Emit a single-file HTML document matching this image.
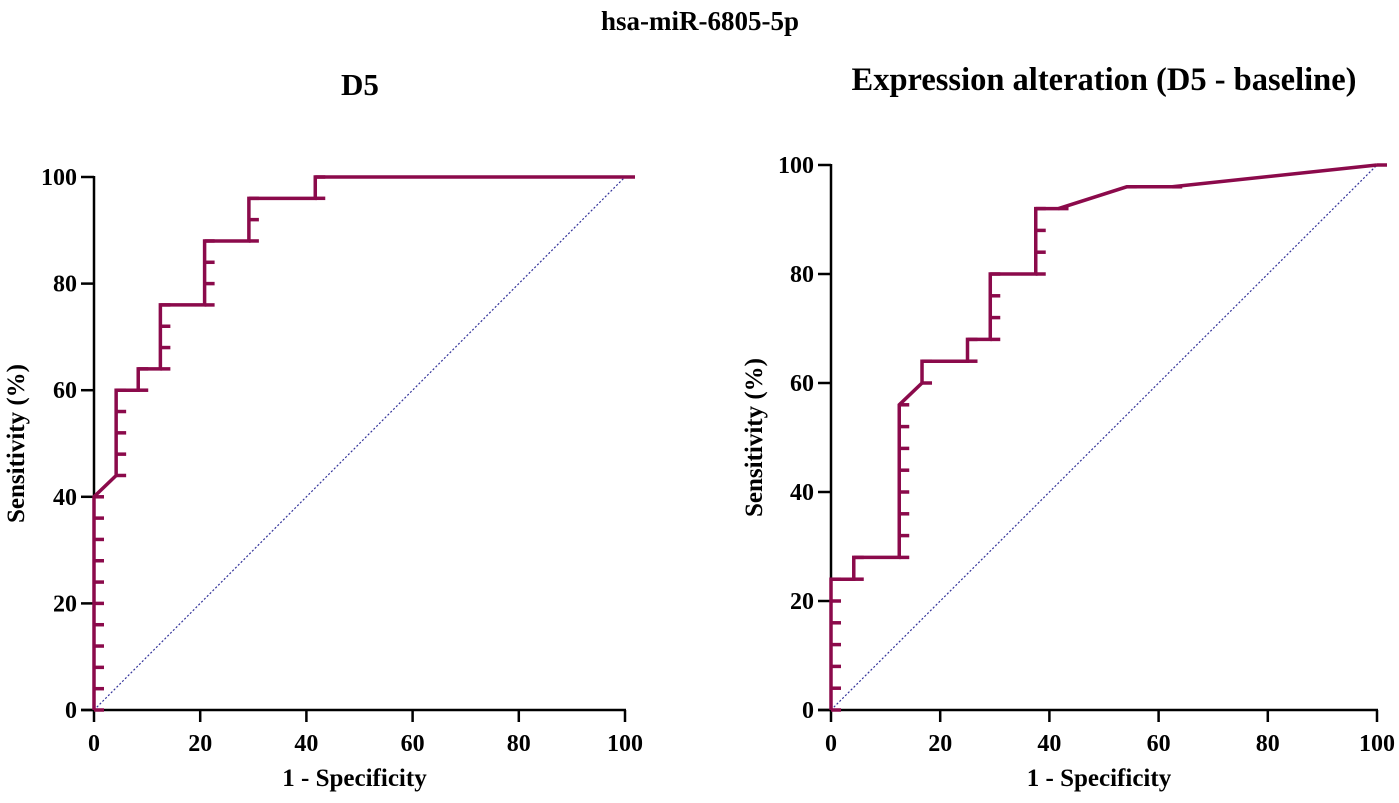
<!DOCTYPE html>
<html><head><meta charset="utf-8"><style>
html,body{margin:0;padding:0;background:#fff}
svg text{font-family:"Liberation Serif",serif;font-weight:bold;fill:#000}
</style></head><body>
<svg id="svg" width="1399" height="798" viewBox="0 0 1399 798" xmlns="http://www.w3.org/2000/svg">
<text x="700" y="30" font-size="27" text-anchor="middle">hsa-miR-6805-5p</text>
<text x="360" y="95" font-size="31" text-anchor="middle">D5</text>
<text x="1104" y="90" font-size="32.5" text-anchor="middle">Expression alteration (D5 - baseline)</text>
<g id="left"></g>
<g id="right"></g>
</svg>
<script>
const ticks=[0,20,40,60,80,100];
const leftFpr=[0,0,0,0,0,0,0,0,0,0,0,4.17,4.17,4.17,4.17,4.17,8.33,8.33,12.5,12.5,12.5,12.5,20.83,20.83,20.83,20.83,29.17,29.17,29.17,41.67,41.67,100];
const leftTpr=[0,4,8,12,16,20,24,28,32,36,40,44,48,52,56,60,60,64,64,68,72,76,76,80,84,88,88,92,96,96,100,100];
const rightFpr=[0,0,0,0,0,0,0,4.17,4.17,12.5,12.5,12.5,12.5,12.5,12.5,12.5,12.5,16.67,16.67,25,25,29.17,29.17,29.17,29.17,37.5,37.5,37.5,37.5,41.67,54.17,62.5,100];
const rightTpr=[0,4,8,12,16,20,24,24,28,28,32,36,40,44,48,52,56,60,64,64,68,68,72,76,80,80,84,88,92,92,96,96,100];
const NS="http://www.w3.org/2000/svg";
function mk(p,t,a){const e=document.createElementNS(NS,t);for(const k in a)e.setAttribute(k,a[k]);p.appendChild(e);return e;}
function chart(g,x0,x1,y0,y1,fpr,tpr,ylx){
  const sx=v=>x0+(x1-x0)*v/100, sy=v=>y0+(y1-y0)*v/100;
  let e=mk(g,'line',{x1:x0,y1:y0,x2:x0,y2:y1-1,stroke:'#000','stroke-width':2.5});
  
  e=mk(g,'line',{x1:x0-13,y1:y0,x2:x1+1,y2:y0,stroke:'#000','stroke-width':2.5});
  
  ticks.forEach(t=>{
    let l=mk(g,'line',{x1:x0-13,y1:sy(t),x2:x0,y2:sy(t),stroke:'#000','stroke-width':2.5});
    
    let tx=mk(g,'text',{x:x0-17,y:sy(t)+8,'font-size':24,'text-anchor':'end'});tx.textContent=t;
    
    l=mk(g,'line',{x1:sx(t),y1:y0,x2:sx(t),y2:y0+12,stroke:'#000','stroke-width':2.5});
    
    tx=mk(g,'text',{x:sx(t),y:y0+41,'font-size':24,'text-anchor':'middle'});tx.textContent=t;
    
  });
  let t=mk(g,'text',{x:(x0+x1)/2-5,y:y0+76,'font-size':25,'text-anchor':'middle'});t.textContent='1 - Specificity';
  
  t=mk(g,'text',{x:ylx,y:(y0+y1)/2,'font-size':25,'text-anchor':'middle',transform:`rotate(-90 ${ylx} ${(y0+y1)/2})`});t.textContent='Sensitivity (%)';
  
  e=mk(g,'line',{x1:sx(0),y1:sy(0),x2:sx(100),y2:sy(100),stroke:'#33339a','stroke-width':1.2,'stroke-dasharray':'2,2'});
  
  const d=fpr.map((f,i)=>(i?'L':'M')+sx(f)+' '+sy(tpr[i])).join(' ');
  e=mk(g,'path',{d:d,fill:'none',stroke:'#8b0a4b','stroke-width':3.5});
  
  fpr.forEach((f,i)=>{
    const m=mk(g,'line',{x1:sx(f),y1:sy(tpr[i]),x2:sx(f)+10,y2:sy(tpr[i]),stroke:'#8b0a4b','stroke-width':3.5});
    
  });
}
chart(document.getElementById('left'),94,625,710,177,leftFpr,leftTpr,24);
chart(document.getElementById('right'),831,1377,710,165,rightFpr,rightTpr,762);
</script>
</body></html>
